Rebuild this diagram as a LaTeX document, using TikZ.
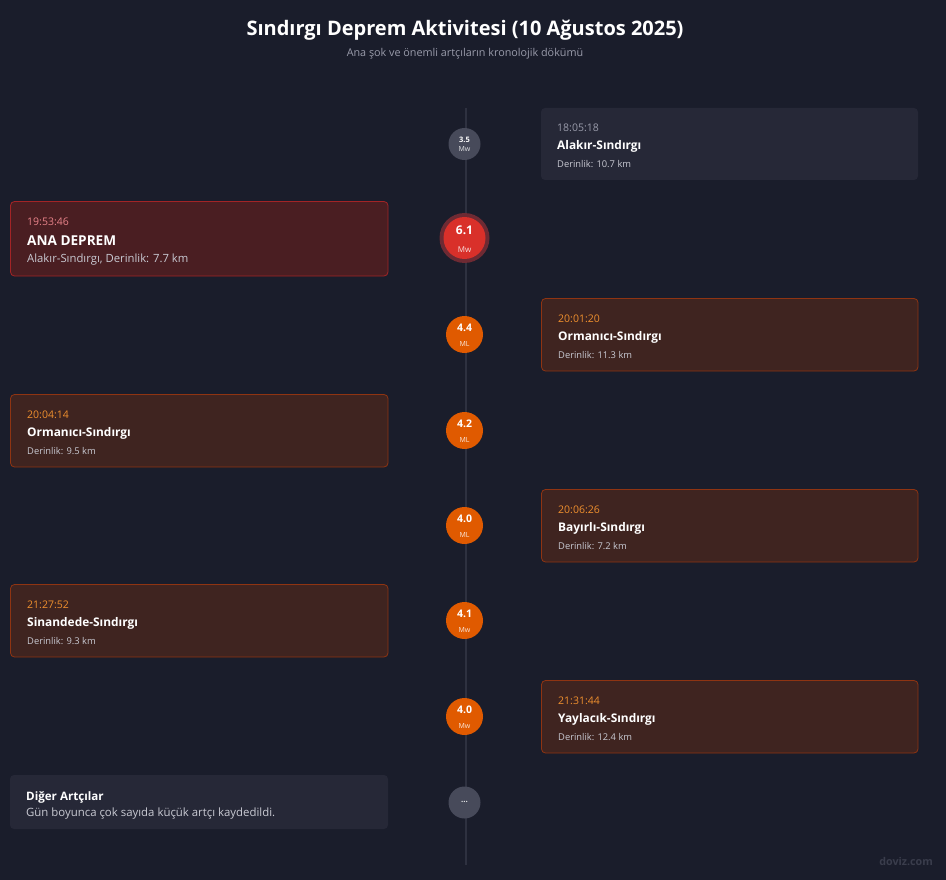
\documentclass[tikz,border=0pt]{standalone}
\usepackage{fontspec}
\setmainfont{Open Sans}
\definecolor{bg}{HTML}{1A1D2B}
\definecolor{tline}{HTML}{2E3140}
\definecolor{graycard}{HTML}{262837}
\definecolor{graydot}{HTML}{474A5A}
\definecolor{redcard}{HTML}{4A1E22}
\definecolor{redborder}{HTML}{A32426}
\definecolor{redtime}{HTML}{E8838A}
\definecolor{reddot}{HTML}{D9302A}
\definecolor{redhalo}{HTML}{6E2A33}
\definecolor{orcard}{HTML}{3F2420}
\definecolor{orborder}{HTML}{8F3412}
\definecolor{ortime}{HTML}{F0902E}
\definecolor{ordot}{HTML}{E05A00}
\definecolor{subtxt}{HTML}{C9CAD3}
\definecolor{graytime}{HTML}{9A9CAB}
\definecolor{titlesub}{HTML}{9A9CAB}
\definecolor{wm}{HTML}{3A3D4C}
\tikzset{
  card/.style={rounded corners=4pt, line width=0.8pt},
  graycardst/.style={card, fill=graycard},
  redcardst/.style={card, fill=redcard, draw=redborder},
  orcardst/.style={card, fill=orcard, draw=orborder},
  txt/.style={anchor=west, inner sep=0pt, yshift=-1.2pt},
  timetxt/.style={txt, font=\fontsize{10.5}{12}\selectfont},
  nametxt/.style={txt, font=\bfseries\fontsize{11.9}{13}\selectfont, text=white},
  depthtxt/.style={txt, font=\fontsize{9.35}{10}\selectfont, text=subtxt},
  dot/.style={circle, inner sep=0pt, minimum size=37pt, fill=ordot, text=white, align=center},
  dotnum/.style={font=\bfseries\fontsize{10.5}{11}\selectfont},
}
\begin{document}
\begin{tikzpicture}[x=1pt,y=-1pt]
\fill[bg] (0,0) rectangle (946,880);
\useasboundingbox (0,0) rectangle (946,880);
% title
\node[inner sep=0pt, text=white, font=\bfseries\fontsize{20}{22}\selectfont] (title) at (465,30) {Sındırgı Deprem Aktivitesi (10 Ağustos 2025)};
\node[inner sep=0pt, text=titlesub, font=\fontsize{10.8}{12}\selectfont] (subtitle) at (465,54) {Ana şok ve önemli artçıların kronolojik dökümü};
% timeline
\coordinate (ltop) at (466,108);
\coordinate (lbot) at (466,865);
\draw[tline, line width=2pt] (ltop) -- (lbot);

% 1
\fill[graycardst] (541,108) rectangle (918,180);
\node[timetxt, text=graytime] (t1) at (557,127) {18:05:18};
\node[nametxt] (n1) at (557,145) {Alakır-Sındırgı};
\node[depthtxt] (d1) at (557,162.5) {Derinlik: 10.7 km};
\node[dot, fill=graydot, minimum size=32pt] (c1) at (464.5,144) {};
\node[inner sep=0pt, text=white, font=\bfseries\fontsize{7.5}{8}\selectfont] (c1a) at (464.5,139.5) {3.5};
\node[inner sep=0pt, text=white!85!graydot, font=\fontsize{7}{8}\selectfont] (c1b) at (464.5,149) {Mw};

% 2 main shock
\filldraw[redcardst] (10.5,201.5) rectangle (388,276);
\node[timetxt, text=redtime] (t2) at (27,221) {19:53:46};
\node[txt, font=\bfseries\fontsize{13.6}{15}\selectfont, text=white] (n2) at (27,239) {ANA DEPREM};
\node[txt, font=\fontsize{11.3}{12}\selectfont, text=subtxt] (d2) at (27,258.5) {Alakır-Sındırgı, Derinlik: 7.7 km};
\node[circle, fill=redhalo, minimum size=50pt, inner sep=0pt] (c2h) at (464.5,238) {};
\node[dot, fill=reddot, minimum size=42pt] (c2) at (464.5,238) {};
\node[inner sep=0pt, text=white, font=\bfseries\fontsize{12}{13}\selectfont] (c2a) at (464.5,230.5) {6.1};
\node[inner sep=0pt, text=white!85!reddot, font=\fontsize{8}{9}\selectfont] (c2b) at (464.5,249.5) {Mw};

% 3
\filldraw[orcardst] (541.5,298.5) rectangle (918,371);
\node[timetxt, text=ortime] (t3) at (558,318) {20:01:20};
\node[nametxt] (n3) at (558,336) {Ormanıcı-Sındırgı};
\node[depthtxt] (d3) at (558,353.5) {Derinlik: 11.3 km};
\node[dot] (c3) at (464.5,334.5) {};
\node[inner sep=0pt, text=white, dotnum] (c3a) at (464.5,327.5) {4.4};
\node[inner sep=0pt, text=white!85!ordot, font=\fontsize{7}{8}\selectfont] (c3b) at (464.5,344) {ML};

% 4
\filldraw[orcardst] (10.5,394.5) rectangle (388,467);
\node[timetxt, text=ortime] (t4) at (27,414) {20:04:14};
\node[nametxt] (n4) at (27,432) {Ormanıcı-Sındırgı};
\node[depthtxt] (d4) at (27,449.5) {Derinlik: 9.5 km};
\node[dot] (c4) at (464.5,430.5) {};
\node[inner sep=0pt, text=white, dotnum] (c4a) at (464.5,423.5) {4.2};
\node[inner sep=0pt, text=white!85!ordot, font=\fontsize{7}{8}\selectfont] (c4b) at (464.5,440) {ML};

% 5
\filldraw[orcardst] (541.5,489.5) rectangle (918,562);
\node[timetxt, text=ortime] (t5) at (558,509) {20:06:26};
\node[nametxt] (n5) at (558,527) {Bayırlı-Sındırgı};
\node[depthtxt] (d5) at (558,544.5) {Derinlik: 7.2 km};
\node[dot] (c5) at (464.5,525.5) {};
\node[inner sep=0pt, text=white, dotnum] (c5a) at (464.5,518.5) {4.0};
\node[inner sep=0pt, text=white!85!ordot, font=\fontsize{7}{8}\selectfont] (c5b) at (464.5,535) {ML};

% 6
\filldraw[orcardst] (10.5,584.5) rectangle (388,657);
\node[timetxt, text=ortime] (t6) at (27,604) {21:27:52};
\node[nametxt] (n6) at (27,622) {Sinandede-Sındırgı};
\node[depthtxt] (d6) at (27,639.5) {Derinlik: 9.3 km};
\node[dot] (c6) at (464.5,620.5) {};
\node[inner sep=0pt, text=white, dotnum] (c6a) at (464.5,613.5) {4.1};
\node[inner sep=0pt, text=white!85!ordot, font=\fontsize{7}{8}\selectfont] (c6b) at (464.5,630) {Mw};

% 7
\filldraw[orcardst] (541.5,680.5) rectangle (918,753);
\node[timetxt, text=ortime] (t7) at (558,700) {21:31:44};
\node[nametxt] (n7) at (558,718) {Yaylacık-Sındırgı};
\node[depthtxt] (d7) at (558,735.5) {Derinlik: 12.4 km};
\node[dot] (c7) at (464.5,716.5) {};
\node[inner sep=0pt, text=white, dotnum] (c7a) at (464.5,709.5) {4.0};
\node[inner sep=0pt, text=white!85!ordot, font=\fontsize{7}{8}\selectfont] (c7b) at (464.5,726) {Mw};

% 8
\fill[graycardst] (10,775) rectangle (388,829);
\node[txt, font=\bfseries\fontsize{11.6}{13}\selectfont, text=white] (n8) at (26,796) {Diğer Artçılar};
\node[txt, font=\fontsize{11.4}{12}\selectfont, text=subtxt] (d8) at (26,812.5) {Gün boyunca çok sayıda küçük artçı kaydedildi.};
\node[dot, fill=graydot, minimum size=32pt] (c8) at (464.5,802.5) {};
\node[inner sep=0pt, text=white!85!graydot, font=\bfseries\fontsize{8}{9}\selectfont] (c8a) at (464.5,802) {...};

% watermark
\node[inner sep=0pt, anchor=east, text=wm, font=\bfseries\fontsize{10.7}{11}\selectfont] (wmark) at (933,862) {doviz.com};
\end{tikzpicture}
\end{document}
